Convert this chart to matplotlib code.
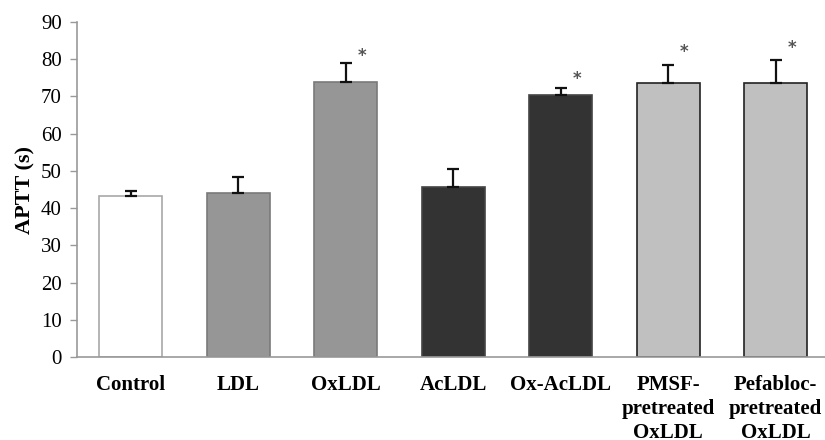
import matplotlib
matplotlib.use("Agg")
import matplotlib.pyplot as plt
import numpy as np

categories = ["Control", "LDL", "OxLDL", "AcLDL", "Ox-AcLDL",
              "PMSF-\npretreated\nOxLDL", "Pefabloc-\npretreated\nOxLDL"]
values = [43.3, 44.0, 73.8, 45.8, 70.4, 73.6, 73.7]
errors = [1.4, 4.3, 5.1, 4.6, 2.0, 4.8, 6.0]
fill_colors = ["#ffffff", "#969696", "#969696", "#333333", "#333333", "#c0c0c0", "#c0c0c0"]
edge_colors = ["#a8a8a8", "#7a7a7a", "#7a7a7a", "#444444", "#444444", "#222222", "#222222"]
star_index = [2, 4, 5, 6]
star_y = [80.9, 74.7, 81.9, 82.9]
yticks = list(range(0, 91, 10))

plt.rcParams['font.family'] = ['Liberation Serif', 'DejaVu Serif']

fig = plt.figure(figsize=(8.25, 4.4), dpi=100)
ax = fig.add_axes([77 / 825, (440 - 357) / 440, 752.5 / 825, 335 / 440])

x = np.arange(len(categories))
ax.bar(x, values, width=0.59, color=fill_colors, edgecolor=edge_colors, linewidth=1.2, zorder=2)
ax.errorbar(x, values, yerr=[np.zeros(len(errors)), errors], fmt="none",
            ecolor="#111111", elinewidth=1.6, capsize=4, capthick=1.6, zorder=3)

for i, sy in zip(star_index, star_y):
    ax.text(x[i] + 0.15, sy, "*", ha="center", va="center", fontsize=12,
            color="#555555", fontweight="bold", family="DejaVu Sans")

ax.set_xlim(-0.5, len(categories) - 0.5)
ax.set_ylim(0, 90)
ax.set_yticks(yticks)
ax.set_yticklabels([str(t) for t in yticks], fontsize=15)
ax.set_xticks(x)
ax.set_xticklabels(categories, fontsize=15, fontweight="bold", linespacing=1.25)
ax.tick_params(axis="x", length=0, pad=13)
ax.tick_params(axis="y", direction="out", length=5, width=1, color="#999999", pad=6)
ax.set_ylabel("APTT (s)", fontsize=16, fontweight="bold", labelpad=4)

for s in ["top", "right"]:
    ax.spines[s].set_visible(False)
for s in ["left", "bottom"]:
    ax.spines[s].set_color("#999999")
    ax.spines[s].set_linewidth(1.2)

fig.savefig("out.png", dpi=100)
